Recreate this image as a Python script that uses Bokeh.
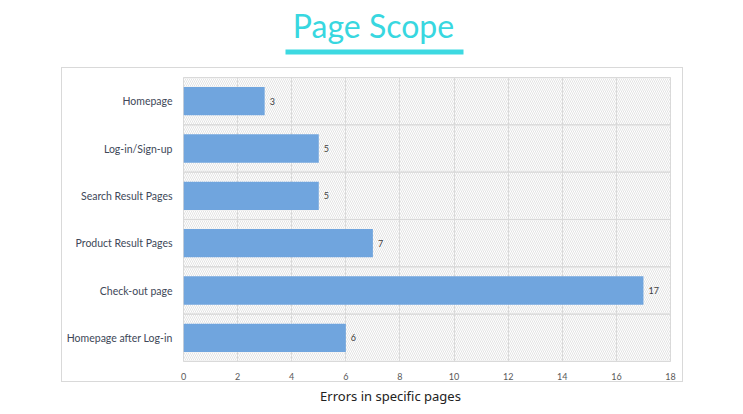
from bokeh.plotting import figure
from bokeh.models import ColumnDataSource, FixedTicker, Range1d, Spacer
from bokeh.layouts import column, row
from bokeh.core.properties import value
from bokeh.embed import file_html
from bokeh.resources import INLINE

categories = ["Homepage", "Log-in/Sign-up", "Search Result Pages",
              "Product Result Pages", "Check-out page", "Homepage after Log-in"]
errors = [3, 5, 5, 7, 17, 6]
x_ticks = [0, 2, 4, 6, 8, 10, 12, 14, 16, 18]
x_max = 18
title_text = "Page Scope"
x_label = "Errors in specific pages"

FONT = "Lato"
CYAN = "#38d7e0"

# ---------- title strip ----------
top = figure(width=743, height=67, output_backend="svg", toolbar_location=None,
             x_range=Range1d(0, 743), y_range=Range1d(67, 0),
             x_axis_type=None, y_axis_type=None, min_border=0)
top.outline_line_color = None
top.grid.visible = False
top.text(x=[373], y=[25], text=[title_text], text_align="center",
         text_baseline="middle", text_font=value(FONT), text_font_size="32px",
         text_font_style="normal", text_color=CYAN)
top.quad(left=[285], right=[463], top=[49], bottom=[54], fill_color="#3dd9e1",
         line_color=None)

# ---------- chart box ----------
p = figure(width=622, height=315, output_backend="svg", toolbar_location=None,
           y_range=list(reversed(categories)), x_range=(0, x_max),
           min_border_left=121, min_border_right=14, min_border_top=9,
           min_border_bottom=22,
           styles={"border": "1px solid #d9d9d9"})
p.outline_line_color = "#d9d9d9"

src = ColumnDataSource(dict(cat=categories, val=errors,
                            lab=[str(v) for v in errors],
                            full=[x_max] * len(categories)))

p.hbar(y="cat", left=0, right="full", height=1.0, source=src,
       fill_alpha=0, hatch_pattern="\\", hatch_color="#dcdcdc",
       hatch_scale=4, hatch_weight=0.8, line_color="#d9d9d9", line_width=1)

p.hbar(y="cat", left=0, right="val", height=0.6, source=src,
       fill_color="#70a5de", line_color=None)

p.text(x="val", y="cat", text="lab", source=src, x_offset=5,
       text_baseline="middle", text_align="left", text_font_size="9px",
       text_color="#404040", text_font=value(FONT))

p.xgrid.ticker = FixedTicker(ticks=x_ticks)
p.xgrid.grid_line_color = "#d9d9d9"
p.ygrid.grid_line_color = None

p.xaxis.ticker = FixedTicker(ticks=x_ticks)
p.xaxis.axis_line_color = None
p.xaxis.major_tick_line_color = None
p.xaxis.minor_tick_line_color = None
p.xaxis.major_label_text_font_size = "9px"
p.xaxis.major_label_text_color = "#595959"
p.xaxis.major_label_text_font = FONT
p.xaxis.major_label_standoff = 5

p.yaxis.axis_line_color = None
p.yaxis.major_tick_line_color = None
p.yaxis.minor_tick_line_color = None
p.yaxis.major_label_text_font_size = "10.5px"
p.yaxis.major_label_text_color = "#404858"
p.yaxis.major_label_text_font = FONT
p.yaxis.major_label_standoff = 5

# ---------- x label strip ----------
bot = figure(width=743, height=28, output_backend="svg", toolbar_location=None,
             x_range=Range1d(0, 743), y_range=Range1d(28, 0),
             x_axis_type=None, y_axis_type=None, min_border=0)
bot.outline_line_color = None
bot.grid.visible = False
bot.text(x=[390], y=[11], text=[x_label], text_align="center",
         text_baseline="middle", text_font=value("Noto Sans"),
         text_font_size="13px", text_color="#222222")

layout = column(top, row(Spacer(width=61, height=317), p), bot, spacing=0)
open("out.html", "w").write(file_html(layout, INLINE))
